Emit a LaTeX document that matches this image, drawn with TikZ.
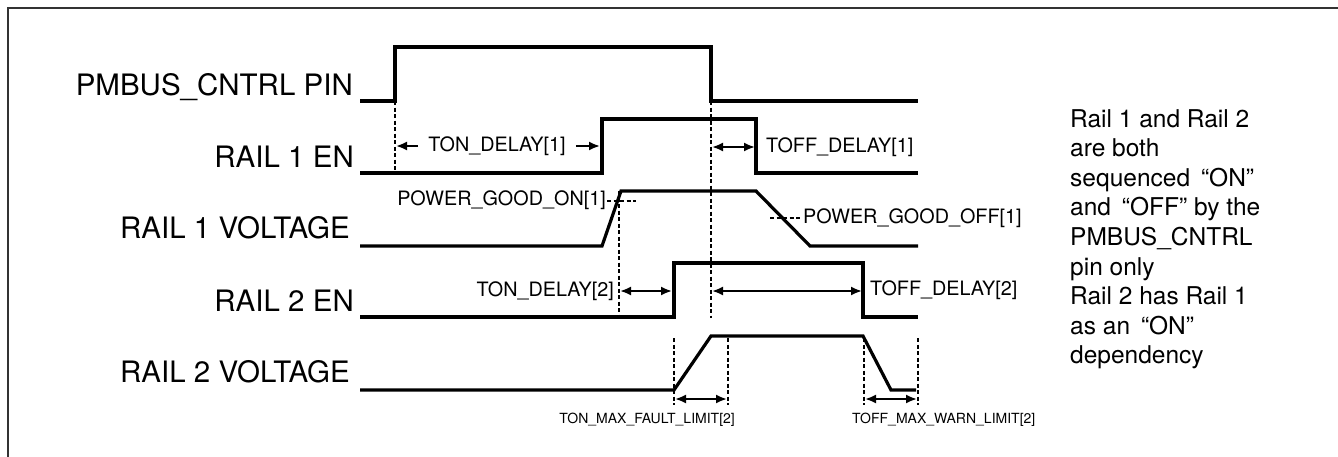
\documentclass[tikz,border=0pt]{standalone}
\usepackage{fontspec}
\setmainfont{TeX Gyre Heros}
\usetikzlibrary{arrows.meta}
\begin{document}
\begin{tikzpicture}[x=1pt,y=-1pt,
  sig/.style={line width=3.2pt, line join=miter, line cap=butt},
  guide/.style={line width=1.3pt, dash pattern=on 4pt off 2.5pt},
  dimboth/.style={line width=2pt, {Latex[length=11pt,width=9pt]}-{Latex[length=11pt,width=9pt]}},
  dimone/.style={line width=2pt, -{Latex[length=11pt,width=9pt]}},
  biglab/.style={font=\fontsize{29.5}{34}\selectfont, anchor=base east, inner sep=0pt},
  midlab/.style={font=\fontsize{19.8}{24}\selectfont, inner sep=0pt},
  smalllab/.style={font=\fontsize{14}{17}\selectfont, inner sep=0pt},
]
\useasboundingbox (0,0) rectangle (1338,456);
\draw[line width=2pt, draw=black!80] (8,470) -- (8,8) -- (1350,8);

% signal names
\node[biglab] (l1) at (353,95) {PMBUS\_CNTRL PIN};
\node[biglab] (l2) at (354,167) {RAIL 1 EN};
\node[biglab] (l3) at (350,238) {RAIL 1 VOLTAGE};
\node[biglab] (l4) at (354,311) {RAIL 2 EN};
\node[biglab] (l5) at (350,382) {RAIL 2 VOLTAGE};

% waveforms
\draw[sig] (360,101) -- (395,101) -- (395,47) -- (711,47) -- (711,101) -- (918,101);
\draw[sig] (360,173) -- (602,173) -- (602,119) -- (756,119) -- (756,173) -- (918,173);
\draw[sig] (360,246) -- (602,246) -- (621,191) -- (756,191) -- (810,246) -- (918,246);
\draw[sig] (360,317) -- (674,317) -- (674,263) -- (863,263) -- (863,317) -- (918,317);
\draw[sig] (360,390) -- (674,390) -- (711,336) -- (863,336) -- (891,390) -- (916,390);

% guides
\draw[guide] (395,101) -- (395,173);
\draw[guide] (711,101) -- (711,318);
\draw[guide] (619,191) -- (619,318);
\draw[guide] (674,338) -- (674,405);
\draw[guide] (728,338) -- (728,405);
\draw[guide] (864,338) -- (864,405);
\draw[guide] (918,338) -- (918,405);
\draw[guide] (607,201) -- (636,201);
\draw[guide] (770,218) -- (800,218);

% dimension end points
\coordinate (a1) at (396,146);
\coordinate (b1) at (600,146);
\coordinate (a2) at (712,147);
\coordinate (b2) at (755,147);
\coordinate (a3) at (620,291);
\coordinate (b3) at (672,291);
\coordinate (a4) at (712,291);
\coordinate (b4) at (862,291);
\coordinate (a5) at (675,399);
\coordinate (b5) at (727,399);
\coordinate (a6) at (865,399);
\coordinate (b6) at (917,399);

% labels
\node[midlab, inner xsep=10pt] (ton1) at (497,146) {TON\_DELAY[1]};
\draw[dimone] (ton1.west) -- (a1);
\draw[dimone] (ton1.east) -- (b1);
\draw[dimboth] (a2) -- (b2);
\node[midlab, anchor=west] (toff1) at (766,147) {TOFF\_DELAY[1]};
\node[midlab, anchor=east] (pgon) at (606,200) {POWER\_GOOD\_ON[1]};
\node[midlab, anchor=west] (pgoff) at (803,218) {POWER\_GOOD\_OFF[1]};
\draw[dimboth] (a3) -- (b3);
\node[midlab, anchor=east] (ton2) at (614,291) {TON\_DELAY[2]};
\draw[dimboth] (a4) -- (b4);
\node[midlab, anchor=west] (toff2) at (870,290) {TOFF\_DELAY[2]};
\draw[dimboth] (a5) -- (b5);
\node[smalllab, anchor=base east] (tonmax) at (735,423) {TON\_MAX\_FAULT\_LIMIT[2]};
\draw[dimboth] (a6) -- (b6);
\node[smalllab, anchor=base west] (toffmax) at (852,423) {TOFF\_MAX\_WARN\_LIMIT[2]};

% note
\node[anchor=north west, inner sep=0pt, align=left,
      font=\fontsize{24.5}{29.6}\selectfont] (note) at (1070,109)
  {Rail 1 and Rail 2\\are both\\sequenced \,“ON”\\and \,“OFF” by the\\PMBUS\_CNTRL\\pin only\\Rail 2 has Rail 1\\as an \,“ON”\\dependency};
\end{tikzpicture}
\end{document}
